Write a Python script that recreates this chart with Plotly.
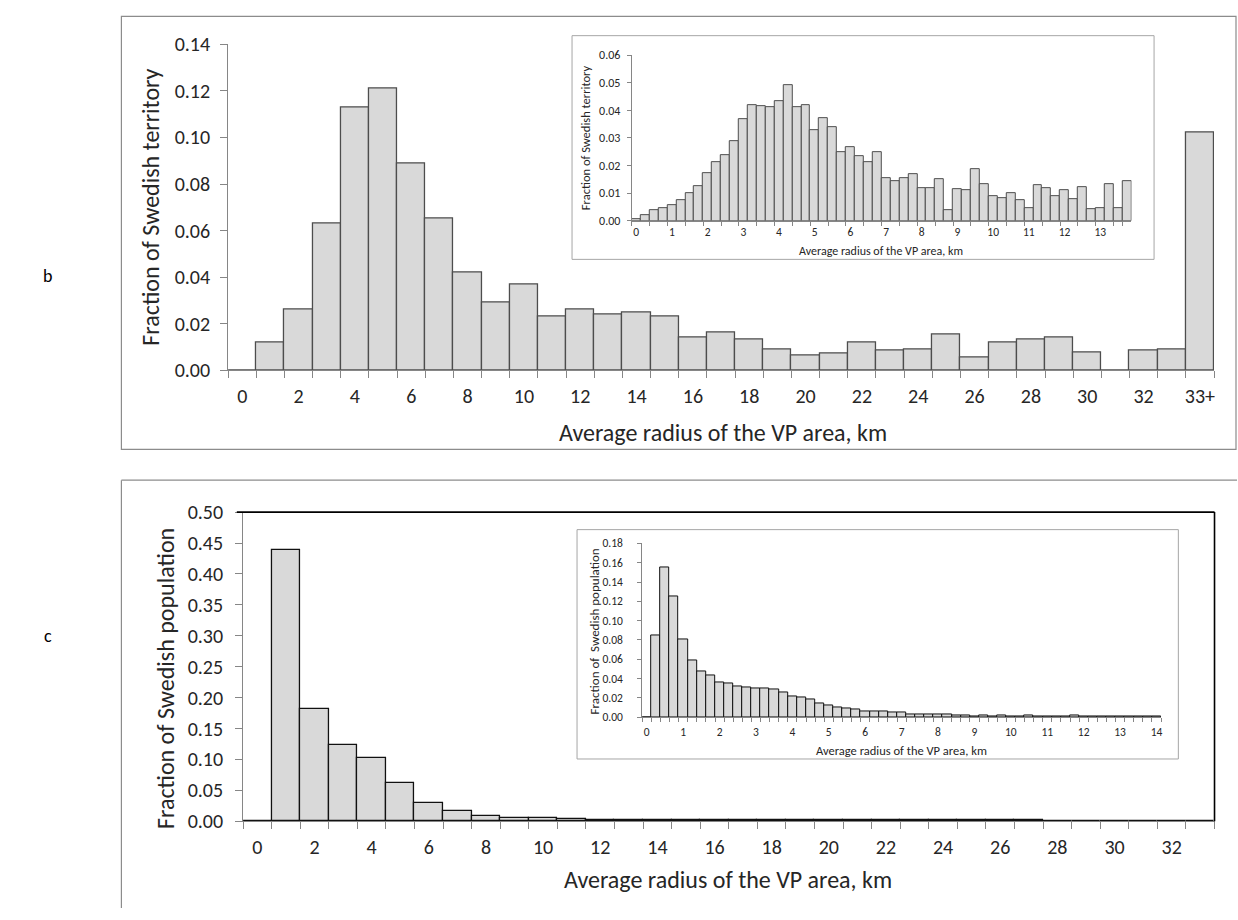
import plotly.graph_objects as go

W, H = 1238, 920
FONT = "Carlito, Lato, sans-serif"

# ---------------- data ----------------
# Panel b, main: fraction of Swedish territory by average radius (1 km bins)
b_cats = [str(i) for i in range(34)] + ["33+"]
b_vals = [0.0, 0.012, 0.026, 0.063, 0.113, 0.121, 0.089, 0.065, 0.042, 0.029,
          0.037, 0.023, 0.026, 0.024, 0.025, 0.023, 0.014, 0.016, 0.013, 0.009,
          0.0065, 0.007, 0.012, 0.0085, 0.009, 0.0155, 0.0055, 0.012, 0.013, 0.014,
          0.0075, 0.0, 0.0085, 0.009, 0.102]

# Panel b, inset: 0.25 km bins, 0 .. 13.75
bi_cats = [f"{i * 0.25:g}" for i in range(56)]
bi_vals = [0.0006, 0.0021, 0.0039, 0.0045, 0.0058, 0.0074, 0.0100, 0.0127, 0.0172, 0.0212,
           0.0239, 0.0288, 0.0369, 0.0420, 0.0414, 0.0411, 0.0434, 0.0492, 0.0411, 0.0418,
           0.0329, 0.0371, 0.0339, 0.0248, 0.0266, 0.0235, 0.0211, 0.0250, 0.0153, 0.0144,
           0.0153, 0.0170, 0.0117, 0.0117, 0.0151, 0.0040, 0.0116, 0.0111, 0.0186, 0.0133,
           0.0090, 0.0081, 0.0099, 0.0074, 0.0047, 0.0128, 0.0118, 0.0089, 0.0111, 0.0077,
           0.0120, 0.0042, 0.0045, 0.0133, 0.0046, 0.0145]

# Panel c, main: fraction of Swedish population (1 km bins)
c_cats = [str(i) for i in range(34)]
c_vals = [0.0, 0.439, 0.181, 0.123, 0.102, 0.062, 0.029, 0.017, 0.009, 0.0052,
          0.0052, 0.0037, 0.0022, 0.0019, 0.0018, 0.0018, 0.0017, 0.0017, 0.0017, 0.0017,
          0.0017, 0.0017, 0.0017, 0.0017, 0.0017, 0.0017, 0.0017, 0.0017, 0.0, 0.0,
          0.0, 0.0, 0.0, 0.0]

# Panel c, inset: 0.25 km bins, 0 .. 14
ci_cats = [f"{i * 0.25:g}" for i in range(57)]
ci_vals = [0.0, 0.0845, 0.1548, 0.1248, 0.0808, 0.0592, 0.0471, 0.0434, 0.0363, 0.0350,
           0.0320, 0.0303, 0.0293, 0.0293, 0.0286, 0.0256, 0.0219, 0.0205, 0.0188, 0.0145,
           0.0121, 0.0101, 0.0091, 0.0084, 0.0054, 0.0061, 0.0054, 0.0044, 0.0044, 0.0024,
           0.0024, 0.0030, 0.0024, 0.0024, 0.0013, 0.0013, 0.0010, 0.0016, 0.0009, 0.0015,
           0.0008, 0.0008, 0.0014, 0.0007, 0.0007, 0.0007, 0.0007, 0.0016, 0.0006, 0.0006,
           0.0006, 0.0006, 0.0006, 0.0006, 0.0006, 0.0006, 0.0006]

x_title = "Average radius of the VP area, km"
b_ytitle = "Fraction of Swedish territory"
c_ytitle = "Fraction of Swedish population"
ci_ytitle = "Fraction of  Swedish population"

# ---------------- helpers ----------------
def px(x):
    return x / W


def py(y):
    return 1 - y / H


AX = "#868686"
TXT = "#262626"


def xcat(cats, domain, anchor, tick_every, label_every, size, tlen, stand):
    tv = cats[::tick_every]
    tt = [c if (i * tick_every) % label_every == 0 else "" for i, c in enumerate(tv)]
    return dict(type="category", categoryorder="array", categoryarray=cats,
                range=[-0.5, len(cats) - 0.5], domain=domain, anchor=anchor,
                tickmode="array", tickvals=tv, ticktext=tt, tickson="boundaries",
                tickangle=0, ticklabelstandoff=stand,
                ticks="outside", ticklen=tlen, tickcolor=AX, showline=True,
                linecolor=AX, linewidth=1, showgrid=False, zeroline=False,
                tickfont=dict(family=FONT, size=size, color=TXT), fixedrange=True)


def ylin(rng, dtick, domain, anchor, size, tlen, stand):
    return dict(range=rng, dtick=dtick, tick0=0, domain=domain, anchor=anchor,
                tickformat=".2f", ticks="outside", ticklen=tlen, tickcolor=AX,
                ticklabelstandoff=stand,
                showline=True, linecolor=AX, linewidth=1, showgrid=False,
                zeroline=False, tickfont=dict(family=FONT, size=size, color=TXT),
                fixedrange=True)


fig = go.Figure()
FILL = "#d9d9d9"
fig.add_trace(go.Bar(x=b_cats, y=b_vals, xaxis="x", yaxis="y",
                     marker=dict(color=FILL, line=dict(color="#4d4d4d", width=1.3))))
fig.add_trace(go.Bar(x=bi_cats, y=bi_vals, xaxis="x2", yaxis="y2",
                     marker=dict(color=FILL, line=dict(color="#4d4d4d", width=1))))
fig.add_trace(go.Bar(x=c_cats, y=c_vals, xaxis="x3", yaxis="y3",
                     marker=dict(color=FILL, line=dict(color="#111111", width=1.3))))
fig.add_trace(go.Bar(x=ci_cats, y=ci_vals, xaxis="x4", yaxis="y4",
                     marker=dict(color=FILL, line=dict(color="#111111", width=1))))

layout = dict(
    width=W, height=H, margin=dict(l=0, r=0, t=0, b=0),
    paper_bgcolor="white", plot_bgcolor="rgba(0,0,0,0)",
    showlegend=False, bargap=0,
    xaxis=xcat(b_cats, [px(228.3), px(1215)], "y", 1, 2, 20, 7, 8),
    yaxis=ylin([0, 0.14], 0.02, [py(367.7), py(33.3)], "x", 20, 7, 6),
    xaxis2=xcat(bi_cats, [px(632.3), px(1132.4)], "y2", 2, 4, 11.5, 4, 0),
    yaxis2=ylin([0, 0.06], 0.01, [py(214.3), py(44.3)], "x2", 12, 4, 4),
    xaxis3=xcat(c_cats, [px(243.3), px(1215.5)], "y3", 1, 2, 20, 7, 8),
    yaxis3=ylin([0, 0.5], 0.05, [py(831), py(513.5)], "x3", 20, 7, 8),
    xaxis4=xcat(ci_cats, [px(642.7), px(1162)], "y4", 1, 4, 11.5, 4, 4),
    yaxis4=ylin([0, 0.18], 0.02, [py(724), py(545.7)], "x4", 11.5, 4, 12),
)
fig.update_layout(**layout)

shapes = []
# panel frames
shapes.append(dict(type="rect", xref="paper", yref="paper", x0=px(121.5), x1=px(1237),
                   y0=py(449), y1=py(4.5), line=dict(color="#8c8c8c", width=1.2),
                   fillcolor="rgba(0,0,0,0)", layer="below"))
shapes.append(dict(type="line", xref="paper", yref="paper", x0=px(121.5), x1=1,
                   y0=py(480.7), y1=py(480.7), line=dict(color="#8c8c8c", width=1.2)))
shapes.append(dict(type="line", xref="paper", yref="paper", x0=px(121.5), x1=px(121.5),
                   y0=py(480.7), y1=0, line=dict(color="#8c8c8c", width=1.2)))
# inset frames
shapes.append(dict(type="rect", xref="paper", yref="paper", x0=px(572.5), x1=px(1155),
                   y0=py(254), y1=py(24.3), line=dict(color="#a6a6a6", width=1),
                   fillcolor="rgba(0,0,0,0)", layer="below"))
shapes.append(dict(type="rect", xref="paper", yref="paper", x0=px(577.5), x1=px(1179.3),
                   y0=py(767), y1=py(531.5), line=dict(color="#a6a6a6", width=1),
                   fillcolor="rgba(0,0,0,0)", layer="below"))
# black plot-area border (top & right) of panel c main
shapes.append(dict(type="line", xref="paper", yref="paper", x0=px(237), x1=px(1215.5),
                   y0=py(513.5), y1=py(513.5), line=dict(color="#000000", width=1.6)))
shapes.append(dict(type="line", xref="paper", yref="paper", x0=px(1215.5), x1=px(1215.5),
                   y0=py(513.5), y1=py(831), line=dict(color="#000000", width=1.6)))
fig.update_layout(shapes=shapes)


def ann(text, x, y, size, angle=0, color=TXT):
    return dict(text=text, x=px(x), y=py(y), xref="paper", yref="paper",
                showarrow=False, textangle=angle, xanchor="center", yanchor="middle",
                font=dict(family=FONT, size=size, color=color))


annotations = [
    ann("b", 48, 271, 18, color="#000000"),
    ann("c", 48, 641, 18, color="#000000"),
    ann(x_title, 724, 432, 24),
    ann(b_ytitle, 151, 200, 24, angle=-90),
    ann(x_title, 882, 245, 12),
    ann(b_ytitle, 586, 129, 12.5, angle=-90),
    ann(x_title, 729, 891, 24),
    ann(c_ytitle, 165, 684, 24, angle=-90),
    ann(x_title, 902, 758, 12.5),
    ann(ci_ytitle, 594.5, 636, 13, angle=-90),
]
fig.update_layout(annotations=annotations)

fig.write_html("out.html")
